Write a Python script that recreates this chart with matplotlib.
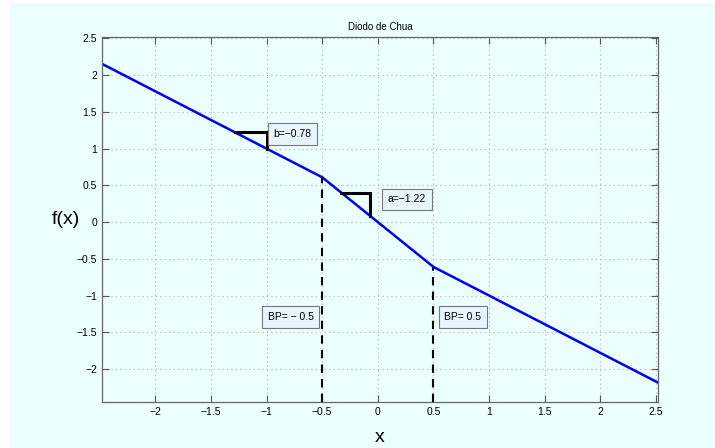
"""Chua diode characteristic, piecewise-linear."""
import numpy as np
import matplotlib
matplotlib.use("Agg")
import matplotlib.pyplot as plt
from matplotlib.patches import Rectangle

plt.rcParams['font.family'] = ['Liberation Sans', 'DejaVu Sans']

# slopes and breakpoint
a = -1.22
b = -0.78
bp = 0.5

# curve sampled at its corners
x_pts = [-2.48, -bp, bp, 2.52]
y_pts = [b * xi + 0.5 * (a - b) * (abs(xi + bp) - abs(xi - bp)) for xi in x_pts]

# slope markers (horizontal start, corner, end)
tri_b_x = [-1.28, -1.0, -1.0]
tri_b_y = [1.22, 1.22, 1.0]
tri_a_x = [-0.33, -0.07, -0.07]
tri_a_y = [0.40, 0.40, 0.085]

xticks = [-2, -1.5, -1, -0.5, 0, 0.5, 1, 1.5, 2, 2.5]
yticks = [-2, -1.5, -1, -0.5, 0, 0.5, 1, 1.5, 2, 2.5]

bg = '#ebffff'
fig = plt.figure(figsize=(7.15, 4.48), dpi=100, facecolor=bg)
# white strips at top and left of the window
fig.patches.append(Rectangle((0, 0), 9 / 715, 1, transform=fig.transFigure,
                             facecolor='white', edgecolor='none', zorder=0))
fig.patches.append(Rectangle((0, 1 - 3 / 448), 1, 3 / 448, transform=fig.transFigure,
                             facecolor='white', edgecolor='none', zorder=0))

ax = fig.add_axes([102 / 715, 1 - 402 / 448, 556 / 715, 365 / 448])
ax.set_facecolor(bg)

ax.plot(x_pts, y_pts, color='#0000ee', lw=1.8)

ylo = -2.45
ax.plot([-bp, -bp], [ylo, y_pts[1]], 'k--', lw=1.5, dashes=(4, 3))
ax.plot([bp, bp], [ylo, y_pts[2]], 'k--', lw=1.5, dashes=(4, 3))

ax.plot(tri_b_x, tri_b_y, color='k', lw=2.2, solid_joinstyle='miter')
ax.plot(tri_a_x, tri_a_y, color='k', lw=2.2, solid_joinstyle='miter')

box = dict(boxstyle='square,pad=0.55', facecolor='#e6f6ff', edgecolor='#777777', lw=0.8)
fs = 7.5
ax.text(-0.94, 1.2, 'b=\u22120.78', fontsize=fs, va='center', ha='left', bbox=box)
ax.text(0.09, 0.31, 'a=\u22121.22', fontsize=fs, va='center', ha='left', bbox=box)
ax.text(-0.99, -1.29, 'BP= \u2212 0.5', fontsize=fs, va='center', ha='left', bbox=box)
ax.text(0.6, -1.29, 'BP= 0.5', fontsize=fs, va='center', ha='left', bbox=box)

ax.set_xlim(-2.48, 2.52)
ax.set_ylim(ylo, 2.52)
ax.set_xticks(xticks)
ax.set_yticks(yticks)
ax.set_xticklabels([f'{t:g}'.replace('-', '\u2212') for t in xticks])
ax.set_yticklabels([f'{t:g}'.replace('-', '\u2212') for t in yticks])
ax.tick_params(direction='in', length=5, width=0.8, labelsize=7.5, color='#555555',
               top=True, right=True)
ax.grid(True, linestyle=(0, (1, 3)), color='#b0b0b0', lw=0.8)
for s in ax.spines.values():
    s.set_color('#666666')
    s.set_linewidth(0.9)

ax.set_title('Diodo de Chua', fontsize=7, pad=5)
ax.set_xlabel('x', fontsize=14, labelpad=9)
ax.set_ylabel('f(x)', fontsize=14, rotation=0, labelpad=8, va='center')

fig.savefig('out.png', dpi=100, facecolor=fig.get_facecolor())
